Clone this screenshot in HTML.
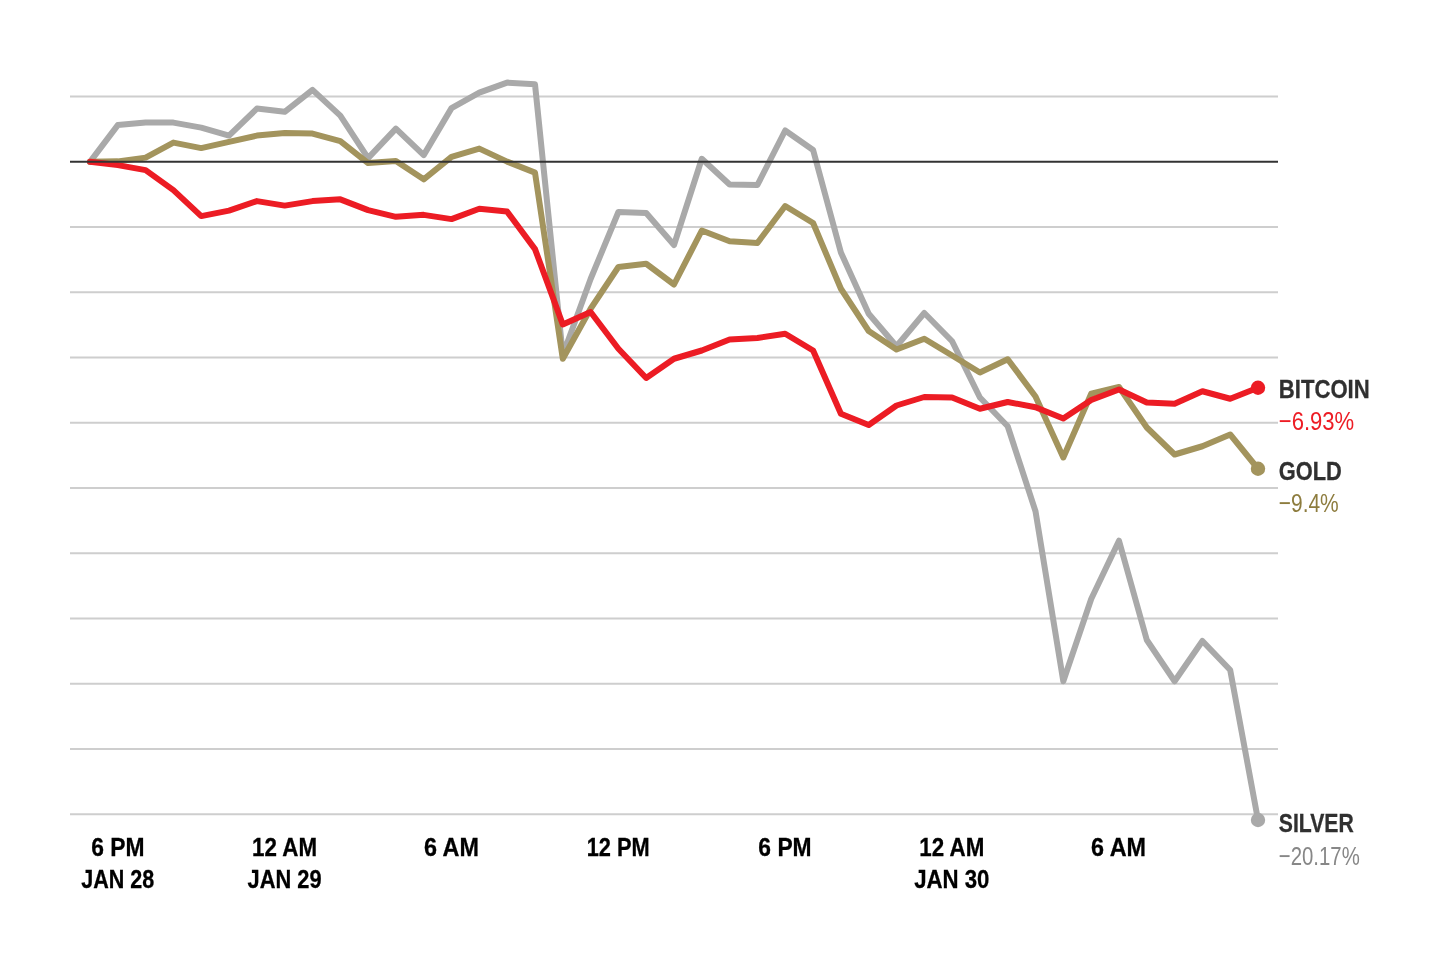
<!DOCTYPE html>
<html><head><meta charset="utf-8"><title>Chart</title>
<style>
html,body{margin:0;padding:0;background:#fff;}
svg{display:block;font-family:"Liberation Sans",sans-serif;will-change:transform;}
</style></head><body>
<svg width="1440" height="960" viewBox="0 0 1440 960">
<rect width="1440" height="960" fill="#fff"/>
<line x1="70" x2="1278" y1="96.40" y2="96.40" stroke="#cecece" stroke-width="2"/>
<line x1="70" x2="1278" y1="226.90" y2="226.90" stroke="#cecece" stroke-width="2"/>
<line x1="70" x2="1278" y1="292.15" y2="292.15" stroke="#cecece" stroke-width="2"/>
<line x1="70" x2="1278" y1="357.40" y2="357.40" stroke="#cecece" stroke-width="2"/>
<line x1="70" x2="1278" y1="422.65" y2="422.65" stroke="#cecece" stroke-width="2"/>
<line x1="70" x2="1278" y1="487.90" y2="487.90" stroke="#cecece" stroke-width="2"/>
<line x1="70" x2="1278" y1="553.15" y2="553.15" stroke="#cecece" stroke-width="2"/>
<line x1="70" x2="1278" y1="618.40" y2="618.40" stroke="#cecece" stroke-width="2"/>
<line x1="70" x2="1278" y1="683.65" y2="683.65" stroke="#cecece" stroke-width="2"/>
<line x1="70" x2="1278" y1="748.90" y2="748.90" stroke="#cecece" stroke-width="2"/>
<line x1="70" x2="1278" y1="814.15" y2="814.15" stroke="#cecece" stroke-width="2"/>
<polyline points="90.0,161.85 117.8,125.10 145.6,122.60 173.4,122.60 201.2,127.60 229.0,135.60 256.9,108.60 284.7,111.85 312.5,89.90 340.3,115.60 368.1,158.10 395.9,128.60 423.7,155.10 451.5,108.10 479.3,92.60 507.1,82.60 535.0,84.35 562.8,355.00 590.6,279.00 618.4,212.00 646.2,213.00 674.0,245.00 701.8,158.75 729.6,184.50 757.4,185.00 785.2,130.50 813.1,150.00 840.9,252.50 868.7,313.75 896.5,346.25 924.3,313.00 952.1,341.25 979.9,397.50 1007.7,426.25 1035.5,511.25 1063.3,681.25 1091.2,599.00 1119.0,540.70 1146.8,640.00 1174.6,681.25 1202.4,641.00 1230.2,670.00 1258.0,820.00" fill="none" stroke="#a9a9a9" stroke-width="6" stroke-linejoin="round" stroke-linecap="round"/>
<circle cx="1258.0" cy="820" r="7.2" fill="#a9a9a9"/>
<polyline points="90.0,161.85 117.8,161.35 145.6,157.60 173.4,142.60 201.2,148.10 229.0,141.85 256.9,135.60 284.7,133.10 312.5,133.60 340.3,141.10 368.1,163.10 395.9,161.10 423.7,179.35 451.5,156.85 479.3,148.60 507.1,161.60 535.0,172.60 562.8,358.75 590.6,308.75 618.4,267.00 646.2,263.75 674.0,284.50 701.8,230.50 729.6,241.25 757.4,243.00 785.2,206.00 813.1,223.00 840.9,288.75 868.7,331.00 896.5,349.50 924.3,338.75 952.1,355.50 979.9,372.50 1007.7,359.25 1035.5,396.50 1063.3,457.50 1091.2,393.75 1119.0,387.00 1146.8,427.50 1174.6,454.50 1202.4,446.25 1230.2,434.50 1258.0,468.75" fill="none" stroke="#a3945d" stroke-width="6" stroke-linejoin="round" stroke-linecap="round"/>
<circle cx="1258.0" cy="468.75" r="7.2" fill="#a3945d"/>
<polyline points="90.0,161.85 117.8,165.10 145.6,170.10 173.4,190.10 201.2,216.10 229.0,210.60 256.9,201.10 284.7,205.60 312.5,201.10 340.3,199.35 368.1,210.10 395.9,216.85 423.7,214.85 451.5,219.10 479.3,208.80 507.1,211.60 535.0,249.10 562.8,324.50 590.6,312.00 618.4,348.75 646.2,378.00 674.0,358.75 701.8,350.50 729.6,339.50 757.4,338.00 785.2,333.75 813.1,350.50 840.9,413.75 868.7,425.00 896.5,405.50 924.3,397.00 952.1,397.50 979.9,408.75 1007.7,402.00 1035.5,407.25 1063.3,418.50 1091.2,400.00 1119.0,389.50 1146.8,402.50 1174.6,403.75 1202.4,391.25 1230.2,398.75 1258.0,387.75" fill="none" stroke="#ec1c24" stroke-width="6" stroke-linejoin="round" stroke-linecap="round"/>
<circle cx="1258.0" cy="387.75" r="7.2" fill="#ec1c24"/>
<line x1="70" x2="1278" y1="161.65" y2="161.65" stroke="#333" stroke-width="2"/>
<text x="117.8" y="855.7" text-anchor="middle" fill="#000" font-weight="bold" font-size="26.5" textLength="53.3" lengthAdjust="spacingAndGlyphs" stroke="#000" stroke-width="0.3">6 PM</text>
<text x="117.8" y="888" text-anchor="middle" fill="#000" font-weight="bold" font-size="26.5" textLength="73" lengthAdjust="spacingAndGlyphs" stroke="#000" stroke-width="0.3">JAN 28</text>
<text x="284.6" y="855.7" text-anchor="middle" fill="#000" font-weight="bold" font-size="26.5" textLength="65" lengthAdjust="spacingAndGlyphs" stroke="#000" stroke-width="0.3">12 AM</text>
<text x="284.6" y="888" text-anchor="middle" fill="#000" font-weight="bold" font-size="26.5" textLength="74" lengthAdjust="spacingAndGlyphs" stroke="#000" stroke-width="0.3">JAN 29</text>
<text x="451.4" y="855.7" text-anchor="middle" fill="#000" font-weight="bold" font-size="26.5" textLength="55" lengthAdjust="spacingAndGlyphs" stroke="#000" stroke-width="0.3">6 AM</text>
<text x="618.2" y="855.7" text-anchor="middle" fill="#000" font-weight="bold" font-size="26.5" textLength="63" lengthAdjust="spacingAndGlyphs" stroke="#000" stroke-width="0.3">12 PM</text>
<text x="785.0" y="855.7" text-anchor="middle" fill="#000" font-weight="bold" font-size="26.5" textLength="53.3" lengthAdjust="spacingAndGlyphs" stroke="#000" stroke-width="0.3">6 PM</text>
<text x="951.8" y="855.7" text-anchor="middle" fill="#000" font-weight="bold" font-size="26.5" textLength="65" lengthAdjust="spacingAndGlyphs" stroke="#000" stroke-width="0.3">12 AM</text>
<text x="951.8" y="888" text-anchor="middle" fill="#000" font-weight="bold" font-size="26.5" textLength="75.3" lengthAdjust="spacingAndGlyphs" stroke="#000" stroke-width="0.3">JAN 30</text>
<text x="1118.6" y="855.7" text-anchor="middle" fill="#000" font-weight="bold" font-size="26.5" textLength="55" lengthAdjust="spacingAndGlyphs" stroke="#000" stroke-width="0.3">6 AM</text>
<text x="1278.75" y="398" text-anchor="start" fill="#303030" font-weight="bold" font-size="26.5" textLength="91" lengthAdjust="spacingAndGlyphs" stroke="#303030" stroke-width="0.3">BITCOIN</text>
<text x="1278.75" y="430" text-anchor="start" fill="#ed1c24" font-weight="normal" font-size="26.5" textLength="75.5" lengthAdjust="spacingAndGlyphs">−6.93%</text>
<text x="1278.75" y="479.6" text-anchor="start" fill="#303030" font-weight="bold" font-size="26.5" textLength="63" lengthAdjust="spacingAndGlyphs" stroke="#303030" stroke-width="0.3">GOLD</text>
<text x="1278.75" y="512" text-anchor="start" fill="#8d7c3e" font-weight="normal" font-size="26.5" textLength="60" lengthAdjust="spacingAndGlyphs">−9.4%</text>
<text x="1278.75" y="832" text-anchor="start" fill="#303030" font-weight="bold" font-size="26.5" textLength="75" lengthAdjust="spacingAndGlyphs" stroke="#303030" stroke-width="0.3">SILVER</text>
<text x="1278.75" y="864.5" text-anchor="start" fill="#878787" font-weight="normal" font-size="26.5" textLength="81" lengthAdjust="spacingAndGlyphs">−20.17%</text>
</svg>
</body></html>
